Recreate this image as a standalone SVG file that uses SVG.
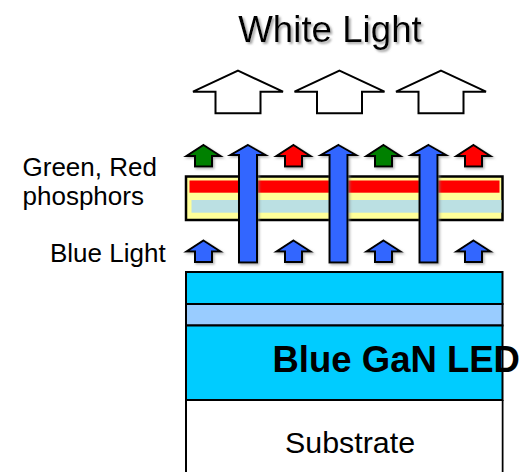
<svg xmlns="http://www.w3.org/2000/svg" xmlns:xlink="http://www.w3.org/1999/xlink" width="527" height="472" viewBox="0 0 527 472">
  <style>
    .t { font-family: "Liberation Sans", Arial, sans-serif; fill: #000; }
    .arr { stroke: #000; stroke-width: 2; stroke-linejoin: miter; }
    .white { fill: #fff; stroke: #000; stroke-width: 2; }
    .blue { fill: #3366FF; }
    .green { fill: #008000; }
    .red { fill: #FF0000; }
    .layer { stroke: #000; stroke-width: 2; }
  </style>
  <defs>
    <filter id="sh" x="-20%" y="-20%" width="150%" height="150%">
      <feDropShadow dx="1.5" dy="1.5" stdDeviation="0.8" flood-color="#808080" flood-opacity="0.6"/>
    </filter>
    <filter id="tsh" x="-10%" y="-20%" width="130%" height="150%">
      <feDropShadow dx="2" dy="2" stdDeviation="0.8" flood-color="#909090" flood-opacity="0.8"/>
    </filter>
    <path id="small" d="M0,0 L17,11 L8.5,11 L8.5,21.5 L-8.5,21.5 L-8.5,11 L-17,11 Z"/>
    <path id="tall" d="M0,0 L17.5,10 L9,10 L9,117.5 L-9,117.5 L-9,10 L-17.5,10 Z"/>
    <path id="big" d="M0,0 L45,21 L22.5,21 L22.5,42.6 L-22.5,42.6 L-22.5,21 L-45,21 Z"/>
  </defs>

  <g id="white-light-label">
    <text class="t" x="330" y="41.5" font-size="36.7" text-anchor="middle" filter="url(#tsh)">White Light</text>
  </g>

  <g id="white-arrows">
    <use xlink:href="#big" class="white" x="238" y="70.7"/>
    <use xlink:href="#big" class="white" x="339.5" y="70.7"/>
    <use xlink:href="#big" class="white" x="441" y="70.7"/>
  </g>

  <g id="led">
    <rect x="186" y="272" width="316.5" height="32" fill="#00CCFF" class="layer"/>
    <rect x="186" y="304" width="316.5" height="21.5" fill="#99CCFF" class="layer"/>
    <rect x="186" y="325.5" width="316.5" height="74.5" fill="#00CCFF" class="layer"/>
    <text class="t" x="272.5" y="371.5" font-size="36.5" font-weight="bold">Blue GaN LED</text>
  </g>

  <g id="substrate">
    <path d="M186,400 L502.5,400 M186,400 L186,473 M502.5,400 L502.5,473" fill="none" stroke="#000" stroke-width="2"/>
    <rect x="187" y="401" width="314.5" height="72" fill="#fff"/>
    <text class="t" x="285" y="453.3" font-size="30.4">Substrate</text>
  </g>

  <g id="phosphors">
    <rect x="186" y="176.5" width="316.5" height="43.5" fill="#FFFF99" stroke="#000" stroke-width="2.5"/>
    <rect x="189.5" y="180.5" width="310" height="12.2" fill="#FF0000"/>
    <rect x="191.5" y="200" width="310" height="12.7" fill="#BBE0E3"/>
  </g>

  <g id="connectors" filter="url(#sh)">
    <use xlink:href="#small" class="arr green" x="203.5" y="145"/>
    <use xlink:href="#small" class="arr red" x="293.5" y="145"/>
    <use xlink:href="#small" class="arr green" x="383.5" y="145"/>
    <use xlink:href="#small" class="arr red" x="473.5" y="145"/>
    <use xlink:href="#small" class="arr blue" x="203.5" y="240.5"/>
    <use xlink:href="#small" class="arr blue" x="293.5" y="240.5"/>
    <use xlink:href="#small" class="arr blue" x="383.5" y="240.5"/>
    <use xlink:href="#small" class="arr blue" x="473.5" y="240.5"/>
    <use xlink:href="#tall" class="arr blue" x="248" y="145"/>
    <use xlink:href="#tall" class="arr blue" x="338.5" y="145"/>
    <use xlink:href="#tall" class="arr blue" x="428.5" y="145"/>
  </g>

  <g id="labels">
    <text class="t" x="22.5" y="175.5" font-size="26">Green, Red</text>
    <text class="t" x="22.5" y="204.5" font-size="26">phosphors</text>
    <text class="t" x="50" y="261.5" font-size="26">Blue Light</text>
  </g>
</svg>
